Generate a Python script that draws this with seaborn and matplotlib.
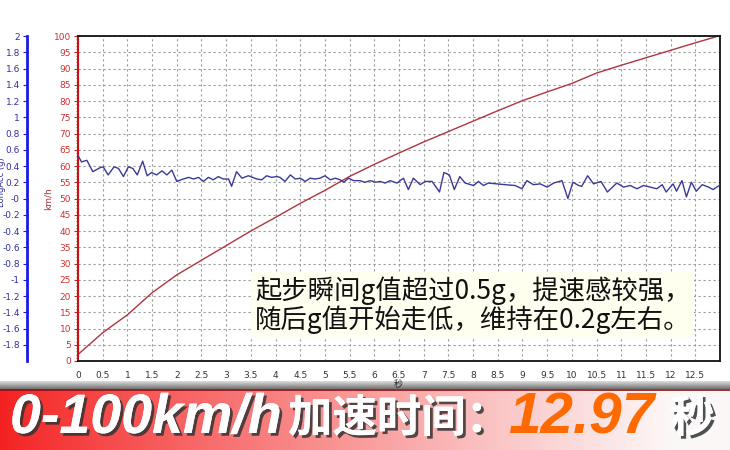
import numpy as np
import pandas as pd
import seaborn as sns
import matplotlib.pyplot as plt
import matplotlib.patheffects as pe

# speed curve (km/h)
t_speed = [0, 0.5, 1, 1.5, 2, 2.5, 3, 3.5, 4, 4.5, 5, 5.5, 6, 6.5, 7, 7.5,
           8, 8.5, 9, 9.5, 10, 10.5, 11, 11.5, 12, 12.5, 12.97]
speed = [2.0, 8.7, 14.2, 21.0, 26.5, 31.0, 35.5, 40.0, 44.2, 48.5, 52.5, 56.8,
         60.5, 64.0, 67.4, 70.6, 73.8, 77.0, 80.1, 82.8, 85.4, 88.6, 91.0,
         93.3, 95.6, 97.9, 100.0]

# longitudinal acceleration (g)
t_acc = [0.01, 0.07, 0.18, 0.30, 0.45, 0.51, 0.61, 0.73, 0.82, 0.92,
         1.02, 1.11, 1.20, 1.31, 1.40, 1.49, 1.59, 1.70, 1.80, 1.90,
         2.00, 2.13, 2.24, 2.34, 2.44, 2.54, 2.64, 2.74, 2.84, 2.94,
         3.05, 3.11, 3.21, 3.32, 3.45, 3.62, 3.72, 3.82, 3.92, 4.03,
         4.09, 4.19, 4.30, 4.40, 4.50, 4.60, 4.70, 4.80, 4.90, 5.00,
         5.11, 5.21, 5.31, 5.38, 5.48, 5.58, 5.71, 5.81, 5.92, 6.02,
         6.12, 6.22, 6.32,
         6.46, 6.59, 6.69, 6.79, 6.93, 7.03, 7.17, 7.32, 7.41, 7.52,
         7.62, 7.73, 7.84, 8.01, 8.11, 8.21, 8.31, 8.48, 8.65, 8.85,
         8.99, 9.09, 9.22, 9.36, 9.50, 9.63, 9.80, 9.92, 10.02, 10.14,
         10.20, 10.32, 10.44, 10.59, 10.72, 10.91, 11.05, 11.18, 11.32, 11.45,
         11.59, 11.72, 11.83, 11.91, 12.05, 12.12, 12.23, 12.32, 12.42, 12.52,
         12.64, 12.77, 12.86, 13.01]
acc = [0.52, 0.45, 0.47, 0.33, 0.38, 0.39, 0.29, 0.39, 0.37, 0.27,
       0.39, 0.37, 0.29, 0.46, 0.28, 0.32, 0.29, 0.34, 0.29, 0.35,
       0.21, 0.24, 0.26, 0.24, 0.26, 0.21, 0.26, 0.23, 0.27, 0.24,
       0.24, 0.15, 0.33, 0.25, 0.28, 0.24, 0.23, 0.28, 0.26, 0.27,
       0.26, 0.21, 0.29, 0.24, 0.25, 0.21, 0.25, 0.24, 0.25, 0.28,
       0.23, 0.25, 0.23, 0.20, 0.25, 0.22, 0.22, 0.20, 0.22, 0.20,
       0.21, 0.19, 0.22,
       0.19, 0.25, 0.11, 0.25, 0.17, 0.21, 0.21, 0.08, 0.32, 0.29,
       0.11, 0.27, 0.19, 0.16, 0.21, 0.16, 0.19, 0.18, 0.17, 0.16,
       0.12, 0.22, 0.17, 0.18, 0.14, 0.19, 0.22, 0.00, 0.20, 0.16,
       0.15, 0.28, 0.18, 0.21, 0.08, 0.19, 0.14, 0.16, 0.12, 0.16,
       0.14, 0.12, 0.17, 0.08, 0.18, 0.09, 0.22, 0.02, 0.20, 0.09,
       0.17, 0.14, 0.11, 0.17]

x_ticks = np.arange(0, 12.51, 0.5)
v_ticks = np.arange(0, 101, 5)
g_ticks = np.arange(-1.8, 2.01, 0.2)

note = "起步瞬间g值超过0.5g，提速感较强，\n随后g值开始走低，维持在0.2g左右。"

sns.set_style("white")
plt.rcParams['font.family'] = ['DejaVu Sans', 'Noto Sans CJK SC']

W, H = 730, 450
fig = plt.figure(figsize=(7.3, 4.5), dpi=100)
ax = fig.add_axes([78 / W, 89 / H, (719.5 - 78) / W, 325 / H])

spd = pd.DataFrame({'t': t_speed, 'v': speed})
g = pd.DataFrame({'t': t_acc, 'g': acc})

sns.lineplot(data=spd, x='t', y='v', ax=ax, color='#b03440', linewidth=1, estimator=None)
ax.set_xlim(0, 12.99)
ax.set_ylim(0, 100)
ax.set_xticks(x_ticks)
ax.set_xticklabels([f"{x:g}" for x in x_ticks])
ax.set_yticks(v_ticks)
ax.set_yticks(np.arange(0, 101, 1), minor=True)
ax.set_xticks(np.arange(0, 13, 0.1), minor=True)
ax.tick_params(axis='x', labelsize=6.5, labelcolor='#333333', length=3, pad=4)
ax.tick_params(axis='x', which='minor', length=1.5)
ax.tick_params(axis='y', labelsize=6.5, labelcolor='#cc3030', color='#cc2020', length=3, pad=2)
ax.tick_params(axis='y', which='minor', length=1.5, color='#cc2020')
ax.grid(True, linestyle=(0, (2, 2.5)), color='#9a9a9a', linewidth=0.8)
for s in ['top', 'right', 'bottom']:
    ax.spines[s].set_color('#111111')
    ax.spines[s].set_linewidth(1.3)
ax.spines['left'].set_color('#cc1010')
ax.spines['left'].set_linewidth(1.5)
ax.set_xlabel('')
ax.set_ylabel('km/h', fontsize=6.5, color='#b03030', labelpad=1)

ax2 = ax.twinx()
sns.lineplot(data=g, x='t', y='g', ax=ax2, color='#3a3a98', linewidth=1, estimator=None)
ax2.set_ylim(-2, 2)
ax2.set_xlim(0, 12.99)
ax2.yaxis.tick_left()
ax2.yaxis.set_label_position('left')
ax2.spines['right'].set_visible(False)
ax2.spines['top'].set_visible(False)
ax2.spines['bottom'].set_visible(False)
ax2.spines['left'].set_visible(True)
ax2.spines['left'].set_position(('axes', (27 - 78) / (719.5 - 78)))
ax2.spines['left'].set_color('#1a1ae6')
ax2.spines['left'].set_linewidth(2)
ax2.set_yticks(g_ticks)
ax2.set_yticklabels([f"{round(v, 1):g}" for v in g_ticks])
ax2.tick_params(axis='y', labelsize=6.5, labelcolor='#3030a0', color='#1a1ae6', length=3, pad=2)
ax2.set_ylabel('LongAcc (g)', fontsize=6, color='#3030a0')
ax2.yaxis.set_label_coords((6 - 78) / (719.5 - 78), 0.55)

fig.text(255 / W, 1 - 305 / H, note, fontsize=19, family=['Noto Sans CJK SC'],
         color='#111111', va='center', ha='left', linespacing=1.0,
         bbox=dict(boxstyle='square,pad=0.15', fc='#fffff0', ec='none'))

# bottom banner
strip = fig.add_axes([0, 61 / H, 1, 8 / H])
strip.imshow(np.linspace(0.92, 0.45, 20).reshape(-1, 1), cmap='gray', vmin=0, vmax=1,
             aspect='auto', extent=[0, 1, 0, 1], origin='upper')
strip.axis('off')
ban = fig.add_axes([0, 0, 1, 61 / H])
xs = np.linspace(0, 1, 400)
red = np.array([0.96, 0.13, 0.13])
frac = np.clip(xs / 0.92, 0, 1) ** 0.9
img = red[None, :] * (1 - frac[:, None]) + frac[:, None] * np.array([0.99, 0.97, 0.97])[None, :]
ban.imshow(img[None, :, :], aspect='auto', extent=[0, 1, 0, 1])
ban.axhline(0.985, color='#8a1010', linewidth=1.2)
ban.axis('off')

fig.text(398 / W, 1 - 384 / H, '秒', fontsize=6.5, color='#222222', ha='center', va='center',
         family=['Noto Sans CJK SC'])

shadow = [pe.withSimplePatchShadow(offset=(2, -2), shadow_rgbFace='#333333', alpha=0.85), pe.Normal()]
yb = 1 - 419 / H
fig.text(10 / W, yb, '0-100km/h', fontsize=40, weight='bold', style='italic', color='white',
         family=['Liberation Sans', 'Noto Sans CJK SC'],
         va='center', ha='left', path_effects=shadow)
fig.text(288 / W, yb, '加速时间：', fontsize=32, weight='black', color='white',
         family=['Noto Sans CJK SC'], va='center', ha='left', path_effects=shadow)
fig.text(508 / W, yb, '12.97', fontsize=42, weight='bold', style='italic', color='#ff6a00',
         family=['Liberation Sans'], va='center', ha='left')
fig.text(670 / W, yb, '秒', fontsize=32, weight='black', color='white',
         family=['Noto Sans CJK SC'], va='center', ha='left', path_effects=shadow)

fig.savefig('out.png', dpi=100)
